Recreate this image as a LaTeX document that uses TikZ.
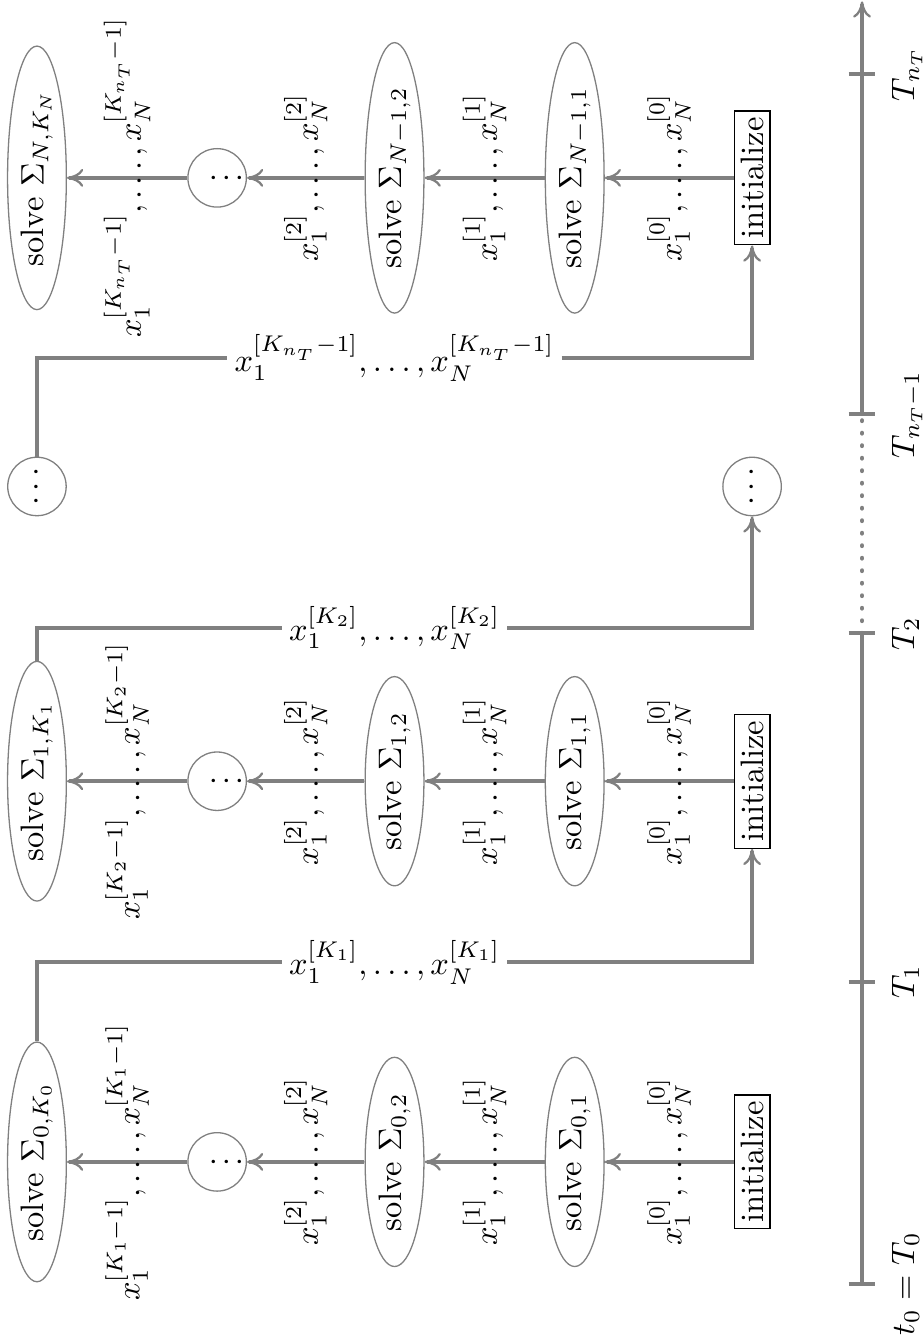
\documentclass[tikz,border=0pt]{standalone}
\usepackage{tikz}
\usetikzlibrary{shapes.geometric}
\usetikzlibrary{arrows.meta}

\begin{document}
\begin{tikzpicture}[>={To[length=5pt,width=5.5pt,line width=0.7pt]},
          solve/.style={ellipse,draw=gray,rotate=90,inner sep=1.5pt},
          init/.style={draw,rotate=90,inner sep=2pt},
          dotnode/.style={circle,draw=gray,rotate=90,inner sep=0pt,minimum size=18pt},
          flow/.style={gray,very thick},
          lbl/.style={rotate=90,inner sep=1pt,text=black},
          pass/.style={inner sep=2pt},
          tlabel/.style={rotate=90,anchor=north}]
          \useasboundingbox (0,0) rectangle (10,14.535);

          % first interval
          \node[solve](s0K) at (0.40,1.96){solve $\Sigma_{0,K_0}$};
          \node[dotnode](d0) at (2.35,1.96){$\vdots$};
          \node[solve](s02) at (4.27,1.96){solve $\Sigma_{0,2}$};
          \node[solve](s01) at (6.22,1.96){solve $\Sigma_{0,1}$};
          \node[init](i0) at (8.14,1.96){initialize};
          \draw[flow,->](i0)--node[lbl]{$x_1^{[0]},\ldots,x_N^{[0]}$}(s01);
          \draw[flow,->](s01)--node[lbl]{$x_1^{[1]},\ldots,x_N^{[1]}$}(s02);
          \draw[flow,->](s02)--node[lbl]{$x_1^{[2]},\ldots,x_N^{[2]}$}(d0);
          \draw[flow,->](d0)--node[lbl]{$x_1^{[K_1-1]},\ldots,x_N^{[K_1-1]}$}(s0K);

          % second interval
          \node[solve](s1K) at (0.40,6.08){solve $\Sigma_{1,K_1}$};
          \node[dotnode](d1) at (2.35,6.08){$\vdots$};
          \node[solve](s12) at (4.27,6.08){solve $\Sigma_{1,2}$};
          \node[solve](s11) at (6.22,6.08){solve $\Sigma_{1,1}$};
          \node[init](i1) at (8.14,6.08){initialize};
          \draw[flow,->](i1)--node[lbl]{$x_1^{[0]},\ldots,x_N^{[0]}$}(s11);
          \draw[flow,->](s11)--node[lbl]{$x_1^{[1]},\ldots,x_N^{[1]}$}(s12);
          \draw[flow,->](s12)--node[lbl]{$x_1^{[2]},\ldots,x_N^{[2]}$}(d1);
          \draw[flow,->](d1)--node[lbl]{$x_1^{[K_2-1]},\ldots,x_N^{[K_2-1]}$}(s1K);

          % last interval
          \node[solve](sNK) at (0.40,12.61){solve $\Sigma_{N,K_N}$};
          \node[dotnode](dN) at (2.35,12.61){$\vdots$};
          \node[solve](sN2) at (4.27,12.61){solve $\Sigma_{N-1,2}$};
          \node[solve](sN1) at (6.22,12.61){solve $\Sigma_{N-1,1}$};
          \node[init](iN) at (8.14,12.61){initialize};
          \draw[flow,->](iN)--node[lbl]{$x_1^{[0]},\ldots,x_N^{[0]}$}(sN1);
          \draw[flow,->](sN1)--node[lbl]{$x_1^{[1]},\ldots,x_N^{[1]}$}(sN2);
          \draw[flow,->](sN2)--node[lbl]{$x_1^{[2]},\ldots,x_N^{[2]}$}(dN);
          \draw[flow,->](dN)--node[lbl]{$x_1^{[K_{n_T}-1]},\ldots,x_N^{[K_{n_T}-1]}$}(sNK);

          % hand-over between intervals
          \node[dotnode](dL) at (0.40,9.27){$\cdots$};
          \node[dotnode](dR) at (8.14,9.27){$\cdots$};
          \node[pass](h1) at (4.27,4.12){$x_1^{[K_1]},\ldots,x_N^{[K_1]}$};
          \node[pass](h2) at (4.27,7.74){$x_1^{[K_2]},\ldots,x_N^{[K_2]}$};
          \node[pass](hN) at (4.27,10.66){$x_1^{[K_{n_T}-1]},\ldots,x_N^{[K_{n_T}-1]}$};
          \draw[flow,->](s0K)|-(h1)-|(i1);
          \draw[flow,->](s1K)|-(h2)-|(dR);
          \draw[flow,->](dL)|-(hN)-|(iN);

          % time axis
          \coordinate(T0) at (9.33,0.64);
          \coordinate(T1) at (9.33,3.91);
          \coordinate(T2) at (9.33,7.68);
          \coordinate(T3) at (9.33,10.05);
          \coordinate(T4) at (9.33,13.73);
          \coordinate(Tend) at (9.33,14.52);
          \draw[flow](T0)--(T2); \draw[flow,->](T3)--(Tend);
          \draw[flow,line width=1.4pt,dash pattern=on 0.1pt off 3.75pt,line cap=round](T2)--(T3);
          \draw[flow]([xshift=-1.45mm]T0)--([xshift=1.45mm]T0); \draw[flow]([xshift=-1.45mm]T1)--([xshift=1.45mm]T1);
          \draw[flow]([xshift=-1.45mm]T2)--([xshift=1.45mm]T2); \draw[flow]([xshift=-1.45mm]T3)--([xshift=1.45mm]T3);
          \draw[flow]([xshift=-1.45mm]T4)--([xshift=1.45mm]T4);
          \node[tlabel](l0) at ([xshift=2mm]T0){$t_0=T_0$};
          \node[tlabel](l1) at ([xshift=2mm]T1){$T_1$};
          \node[tlabel](l2) at ([xshift=2mm]T2){$T_2$};
          \node[tlabel](l3) at ([xshift=2mm]T3){$T_{n_T-1}$};
          \node[tlabel](l4) at ([xshift=2mm]T4){$T_{n_T}$};
        \end{tikzpicture}
\end{document}
